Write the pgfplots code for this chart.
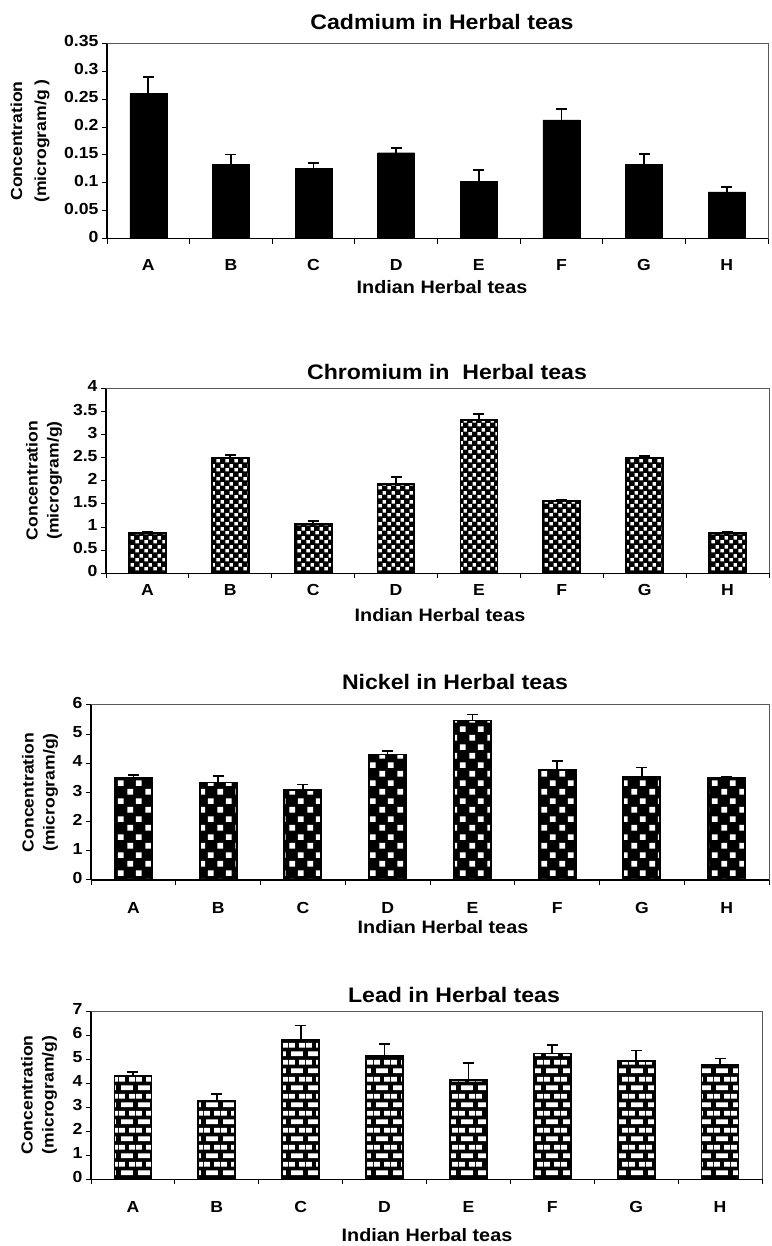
\documentclass[border=0pt]{standalone}
\usepackage{fontspec}
\setmainfont{Liberation Sans}[FakeStretch=1.1]
\usepackage{pgfplots}
\pgfplotsset{compat=1.18}
\usetikzlibrary{patterns}

% P2: white speckles on black
\pgfdeclarepatternformonly{speckW}{\pgfpointorigin}{\pgfpoint{9pt}{9pt}}{\pgfpoint{9pt}{9pt}}{%
  \pgfpathrectangle{\pgfpoint{0.5pt}{0.6pt}}{\pgfpoint{3.9pt}{3.6pt}}%
  \pgfpathrectangle{\pgfpoint{5.0pt}{4.9pt}}{\pgfpoint{3.6pt}{3.9pt}}%
  \pgfusepath{fill}}
% P3: white squares checker on black
\pgfdeclarepatternformonly{checkW}{\pgfpointorigin}{\pgfpoint{18pt}{18pt}}{\pgfpoint{18pt}{18pt}}{%
  \pgfpathrectangle{\pgfpoint{1.5pt}{1.5pt}}{\pgfpoint{6pt}{6pt}}%
  \pgfpathrectangle{\pgfpoint{10.5pt}{10.5pt}}{\pgfpoint{6pt}{6pt}}%
  \pgfusepath{fill}}
% P4: white bricks on black
\pgfdeclarepatternformonly{brickW}{\pgfpointorigin}{\pgfpoint{17pt}{17.4pt}}{\pgfpoint{17pt}{17.4pt}}{%
  \pgfpathrectangle{\pgfpoint{2.2pt}{1.9pt}}{\pgfpoint{12.6pt}{4.9pt}}%
  \pgfpathrectangle{\pgfpoint{0pt}{10.6pt}}{\pgfpoint{6.3pt}{4.9pt}}%
  \pgfpathrectangle{\pgfpoint{10.7pt}{10.6pt}}{\pgfpoint{6.3pt}{4.9pt}}%
  \pgfusepath{fill}}

\pgfplotsset{
  herbal/.style={
    scale only axis, anchor=south west,
    xmin=0.5, xmax=8.5, ymin=0,
    xtick={0.5,1.5,2.5,3.5,4.5,5.5,6.5,7.5,8.5},
    xticklabels={A,B,C,D,E,F,G,H,{}},
    typeset ticklabels with strut,
    tick align=outside,
    major tick length=5pt,
    axis x line*=bottom, axis y line*=left,
    axis line style={line width=1.3pt, black},
    tick style={line width=1pt, black},
    ticklabel style={font=\fontsize{16}{18}\selectfont\bfseries},
    /pgf/number format/assume math mode=true,
    ybar, bar width=37pt,
    clip=false,
    after end axis/.code={\draw[black!65, line width=1pt] (rel axis cs:0,1) -- (rel axis cs:1,1) -- (rel axis cs:1,0);},
  },
  errs/.style={
    error bars/.cd, y dir=plus, y explicit,
    error bar style={line width=1.7pt, black},
    error mark options={rotate=90, mark size=5.5pt, line width=1.7pt, black},
  },
}

\begin{document}
\begin{tikzpicture}[x=1pt,y=1pt]
\useasboundingbox (0,0) rectangle (771,1246);

% ---------------- Panel 1: Cadmium
\begin{axis}[herbal, at={(107pt,1007.3pt)}, width=661pt, height=195.4pt,
  ymax=0.35, ytick={0,0.05,0.1,0.15,0.2,0.25,0.3,0.35},
  yticklabels={0,0.05,0.1,0.15,0.2,0.25,0.3,0.35},
  xticklabel style={xshift=41.3pt, yshift=-11pt}]
\addplot[fill=black, draw=black, errs] coordinates {
 (1,0.260) +- (0,0.030)
 (2,0.133) +- (0,0.018)
 (3,0.126) +- (0,0.009)
 (4,0.154) +- (0,0.008)
 (5,0.103) +- (0,0.020)
 (6,0.213) +- (0,0.019)
 (7,0.133) +- (0,0.019)
 (8,0.084) +- (0,0.009)
};
\end{axis}
\node[font=\fontsize{21}{24}\selectfont\bfseries] at (442,1224) {Cadmium in Herbal teas};
\node[font=\fontsize{18}{21}\selectfont\bfseries] at (442,959) {Indian Herbal teas};
\node[rotate=90, align=center, font=\fontsize{16}{24}\selectfont\bfseries] at (30,1105) {Concentration\\(microgram/g )};

% ---------------- Panel 2: Chromium
\begin{axis}[herbal, at={(106pt,672.7pt)}, width=663pt, height=185pt,
  ymax=4, ytick={0,0.5,1,1.5,2,2.5,3,3.5,4},
  yticklabels={0,0.5,1,1.5,2,2.5,3,3.5,4},
  xticklabel style={xshift=41.4pt, yshift=-1pt}]
\addplot[fill=black, draw=black, line width=1.8pt,
  postaction={pattern=speckW, pattern color=white}, errs] coordinates {
 (1,0.865) +- (0,0.025)
 (2,2.486) +- (0,0.065)
 (3,1.074) +- (0,0.055)
 (4,1.924) +- (0,0.165)
 (5,3.320) +- (0,0.125)
 (6,1.557) +- (0,0.035)
 (7,2.490) +- (0,0.050)
 (8,0.865) +- (0,0.025)
};
\end{axis}
\node[font=\fontsize{21}{24}\selectfont\bfseries] at (447,874) {Chromium in~ Herbal teas};
\node[font=\fontsize{18}{21}\selectfont\bfseries] at (440,631) {Indian Herbal teas};
\node[rotate=90, align=center, font=\fontsize{16}{21}\selectfont\bfseries] at (44,765.5) {Concentration\\(microgram/g)};

% ---------------- Panel 3: Nickel
\begin{axis}[herbal, at={(91pt,366pt)}, width=678pt, height=175pt,
  ymax=6, ytick={0,1,2,3,4,5,6},
  yticklabels={0,1,2,3,4,5,6},
  xticklabel style={xshift=42.4pt, yshift=-12pt}]
\addplot[fill=black, draw=black, line width=1.8pt,
  postaction={pattern=checkW, pattern color=white}, errs] coordinates {
 (1,3.50) +- (0,0.09)
 (2,3.34) +- (0,0.23)
 (3,3.09) +- (0,0.18)
 (4,4.30) +- (0,0.13)
 (5,5.47) +- (0,0.20)
 (6,3.78) +- (0,0.29)
 (7,3.54) +- (0,0.32)
 (8,3.49) +- (0,0.03)
};
\end{axis}
\node[font=\fontsize{21}{24}\selectfont\bfseries] at (455,564) {Nickel in Herbal teas};
\node[font=\fontsize{18}{21}\selectfont\bfseries] at (443,319) {Indian Herbal teas};
\node[rotate=90, align=center, font=\fontsize{16}{21}\selectfont\bfseries] at (40,453.5) {Concentration\\(microgram/g)};

% ---------------- Panel 4: Lead
\begin{axis}[herbal, at={(91pt,66.7pt)}, width=671pt, height=168.3pt,
  ymax=7, ytick={0,1,2,3,4,5,6,7},
  yticklabels={0,1,2,3,4,5,6,7},
  xticklabel style={xshift=41.9pt, yshift=-12pt}]
\addplot[fill=black, draw=black, line width=1.8pt,
  postaction={pattern=brickW, pattern color=white}, errs] coordinates {
 (1,4.31) +- (0,0.15)
 (2,3.27) +- (0,0.28)
 (3,5.79) +- (0,0.61)
 (4,5.13) +- (0,0.51)
 (5,4.12) +- (0,0.73)
 (6,5.23) +- (0,0.37)
 (7,4.92) +- (0,0.44)
 (8,4.77) +- (0,0.25)
};
\end{axis}
\node[font=\fontsize{21}{24}\selectfont\bfseries] at (454,251) {Lead in Herbal teas};
\node[font=\fontsize{18}{21}\selectfont\bfseries] at (427,11) {Indian Herbal teas};
\node[rotate=90, align=center, font=\fontsize{16}{21}\selectfont\bfseries] at (39,151) {Concentration\\(microgram/g)};

\end{tikzpicture}
\end{document}
